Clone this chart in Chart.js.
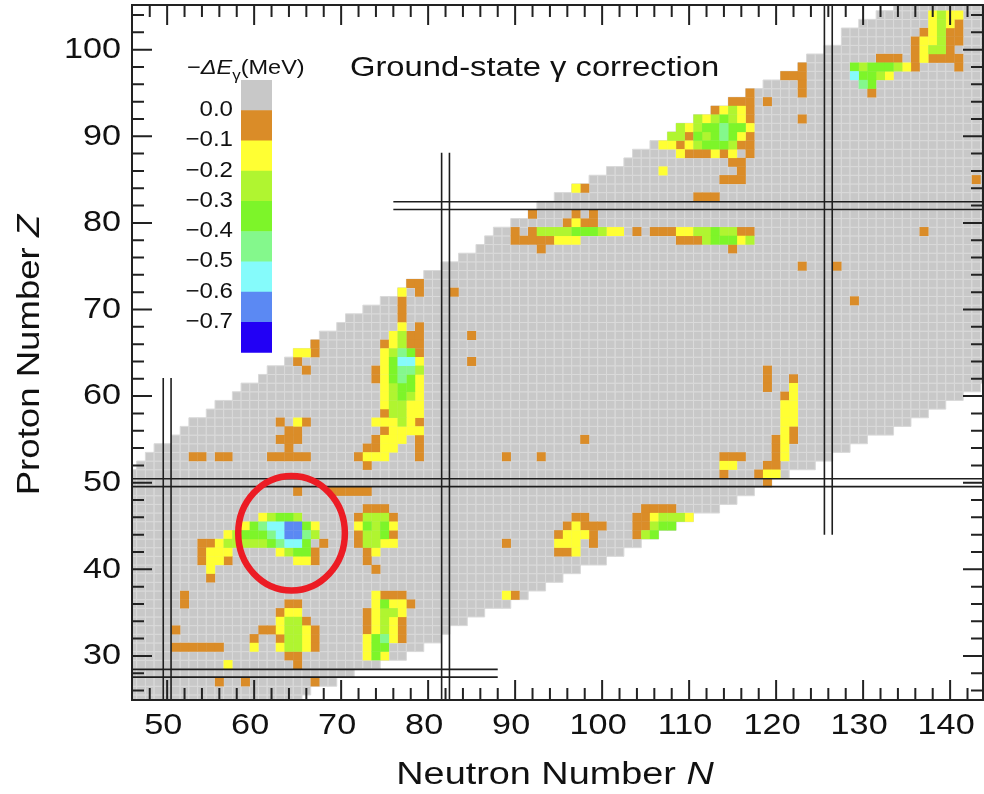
<!DOCTYPE html>
<html lang="en">
<head>
<meta charset="utf-8">
<title>Ground-state gamma correction</title>
<script src="https://cdn.jsdelivr.net/npm/chart.js@4.4.1/dist/chart.umd.min.js"></script>
<style>
  html, body { margin: 0; background: #ffffff; }
  .chart-box { position: relative; width: 984px; height: 794px; }
</style>
</head>
<body>
<div class="chart-box"><canvas id="gammaChart"></canvas></div>
<script>
// Rows of the nuclear chart (proton number) with the first and last neutron number drawn in each row
const zRows = [25, 26, 27, 28, 29, 30, 31, 32, 33, 34, 35, 36, 37, 38, 39, 40, 41, 42, 43, 44, 45,
  46, 47, 48, 49, 50, 51, 52, 53, 54, 55, 56, 57, 58, 59, 60, 61, 62, 63, 64, 65, 66, 67, 68, 69, 70,
  71, 72, 73, 74, 75, 76, 77, 78, 79, 80, 81, 82, 83, 84, 85, 86, 87, 88, 89, 90, 91, 92, 93, 94, 95,
  96, 97, 98, 99, 100, 101, 102, 103, 104, 105];
const nFirst = [46, 46, 46, 46, 46, 46, 46, 46, 46, 46, 46, 46, 46, 46, 46, 46, 46, 46, 46, 46, 46,
  46, 46, 46, 46, 46, 46, 47, 48, 49, 51, 52, 53, 55, 56, 58, 59, 61, 62, 64, 65, 67, 68, 70, 71, 73,
  75, 77, 78, 80, 82, 84, 86, 87, 88, 90, 92, 93, 95, 97, 99, 101, 103, 104, 106, 108, 109, 111, 113, 115, 117,
  119, 121, 123, 124, 126, 128, 128, 130, 132, 134];
const nLast = [65, 66, 69, 71, 74, 77, 79, 81, 82, 84, 86, 89, 91, 93, 95, 97, 100, 102, 104, 106, 108,
  110, 113, 115, 117, 119, 121, 124, 126, 128, 130, 133, 135, 137, 139, 141, 143, 144, 144, 144, 144, 144, 144, 144, 144, 144,
  144, 144, 144, 144, 144, 144, 144, 144, 144, 144, 144, 144, 144, 144, 144, 144, 144, 144, 144, 144, 144, 144, 144, 144, 144,
  144, 144, 144, 144, 144, 144, 144, 144, 144, 144];

// Cells with a correction, grouped by colour band: [Z, [N, ...]]
const orangeRows = [ // -dE about -0.05 MeV
  [103, [141]], [102, [137, 140, 141]], [101, [136, 140, 141]], [100, [136, 140]],
  [99, [132, 133, 134, 136, 138, 139, 140, 141]], [98, [123, 136, 141]], [97, [121, 122, 123]],
  [96, [123]], [95, [117, 123, 131]], [94, [115, 116, 117, 119]], [93, [113, 117]],
  [92, [117, 123]], [90, [110, 117]], [89, [109, 116, 117]], [88, [110, 111, 112, 114, 117]],
  [87, [115, 116]], [86, [116]], [85, [114, 115, 116, 143]], [84, [98]], [83, [111, 112, 113]],
  [81, [92, 97, 99]], [80, [96, 98, 99]], [79, [90, 92, 104, 106, 107, 108, 116, 117, 137]],
  [78, [90, 91, 92, 93, 94, 109, 110, 111]], [77, [93, 115]], [75, [123, 127]],
  [73, [78, 79]], [72, [79, 83]], [71, [77, 129]], [70, [77]], [69, [77]], [68, [79]],
  [67, [78, 79, 85]], [66, [67, 75, 78, 79]], [65, [67, 79]], [64, [65, 85]],
  [63, [66, 74, 119]], [62, [74, 119, 122]], [61, [119]], [60, [121]], [58, [75]],
  [57, [63, 66, 79]], [56, [64, 65, 75, 122]], [55, [63, 64, 65, 74, 79, 98, 120, 122]],
  [54, [64, 73, 74, 79, 120]], [53, [53, 54, 56, 57, 62, 63, 64, 65, 66, 72, 79, 89, 93, 114, 115, 116, 120]],
  [52, [73, 119, 120]], [51, [114, 118]], [50, [119]], [49, [65, 69, 70, 71, 72, 73]],
  [47, [73, 74, 75, 105, 106, 107, 108]], [46, [72, 76, 97, 98, 104, 105]],
  [45, [96, 98, 99, 100, 104, 105]], [44, [72, 76, 95, 99, 104]], [43, [54, 55, 68, 72, 89, 99]],
  [42, [54, 67, 73, 95, 96]], [41, [54, 57, 67, 73]], [40, [74]], [39, [55]],
  [37, [52, 75, 76, 77, 90]], [36, [52, 64, 65, 78]], [35, [63, 73]], [34, [66, 73, 77]],
  [33, [51, 61, 62, 67, 73, 77]], [32, [60, 63, 67, 77]], [31, [51, 52, 53, 54, 55, 56, 67]],
  [30, [64, 65]], [29, [65]], [27, [56, 59, 67]]
];
const yellowRows = [ // about -0.15 MeV
  [104, [138, 140, 141]], [103, [138, 140]], [102, [138]], [101, [137, 138]], [100, [137]], [99, [137]],
  [98, [135]], [97, [133]], [93, [114, 116]], [92, [112, 116]], [91, [110, 117]], [90, [116]],
  [89, [107, 108, 110]], [88, [109, 113, 115]], [86, [107]], [84, [97]], [80, [97]],
  [79, [101, 102, 109, 110]], [78, [95, 96, 97, 116]], [72, [77]], [68, [77]], [67, [76]], [66, [76]],
  [65, [65, 66, 75]], [64, [75, 79]], [63, [75]], [62, [75, 79]], [61, [75, 79, 122]], [60, [75, 79, 122]],
  [59, [75, 78, 79, 121, 122]], [58, [78, 79, 121, 122]], [57, [65, 74, 75, 76, 78, 121, 122]],
  [56, [76, 77, 78, 79, 121]], [55, [75, 76, 77, 121]], [54, [75, 76, 121]], [53, [73, 74, 75, 121]],
  [52, [114, 115]], [51, [119, 120]], [46, [61, 106, 110]], [45, [59, 67, 72, 76, 97]],
  [44, [57, 96, 97, 98]], [43, [56, 75, 76, 95, 96, 97]], [42, [55, 56, 57, 63, 74, 97]],
  [41, [55, 56, 65, 66]], [40, [55]], [37, [74, 89]], [36, [74, 76, 77]], [35, [64, 65, 74, 77]],
  [34, [63, 74, 76]], [33, [63, 66, 74, 76]], [32, [66, 73, 76]], [31, [60, 63, 66, 73]],
  [30, [73, 75]], [29, [57]]
];
const limeRows = [ // about -0.25 MeV
  [104, [139]], [103, [139]], [102, [139]], [101, [139]], [100, [138, 139]],
  [98, [130, 134]], [97, [132]], [93, [115]], [92, [111, 113, 115]], [91, [109, 111]],
  [90, [108, 109, 112]], [89, [111, 115]], [79, [93, 94, 95, 96, 100, 111, 112, 114, 115]],
  [78, [112, 117]], [67, [77]], [66, [77]], [65, [76]], [63, [79]], [61, [76]], [60, [76, 78]],
  [59, [76, 77]], [58, [76, 77]], [57, [77]], [46, [62, 65, 73, 74, 75, 107, 108, 109]],
  [45, [74, 106]], [44, [58, 67, 73, 74, 105]], [43, [57, 58, 59, 60, 61, 73, 74]], [42, [64]],
  [35, [75, 76]], [34, [64, 65, 75]], [33, [64, 65, 75]], [32, [64, 65]], [31, [64, 65]]
];
const greenRows = [ // about -0.35 MeV
  [98, [129, 131, 132, 133]], [97, [130, 131]], [96, [131]], [92, [114]], [91, [112, 113, 115, 116]],
  [90, [111, 113, 115]], [89, [112, 113, 114]], [79, [97, 98, 99, 113]], [78, [113, 114, 115]],
  [65, [78]], [64, [76]], [63, [76]], [62, [76, 78]], [61, [77, 78]], [60, [77]],
  [46, [63, 64]], [45, [60, 66, 73, 75, 107, 108]], [44, [59, 60, 61, 75, 106]], [43, [62, 66]],
  [42, [65, 66]], [36, [75]], [32, [74]], [31, [74, 75]], [30, [74]]
];
const mintRows = [ // about -0.45 MeV
  [96, [130]], [91, [114]], [90, [114]], [65, [77]], [63, [77, 78]], [62, [77]],
  [45, [61]], [44, [62, 66]], [43, [63]], [32, [75]]
];
const cyanRows = [[97, [129]], [64, [77, 78]], [45, [62, 63]], [44, [63]], [43, [64, 65]]]; // about -0.55 MeV
const blueRows = [[45, [64, 65]], [44, [64, 65]]]; // about -0.65 MeV
const bandRows = [orangeRows, yellowRows, limeRows, greenRows, mintRows, cyanRows, blueRows];
const bandValues = [-0.05, -0.15, -0.25, -0.35, -0.45, -0.55, -0.65];

// Colour key, top to bottom (grey = no correction)
const levelLabels = ['0.0', '\u22120.1', '\u22120.2', '\u22120.3', '\u22120.4', '\u22120.5', '\u22120.6', '\u22120.7'];
const levelColors = ['#c8c8c8', '#da8c28', '#ffff33', '#b0f530', '#7df529', '#84f88c', '#85fbfb', '#5b89f3', '#2200f5'];

// Shell closures drawn as double lines, with the extent of each pair
const magicN = [50, 82, 126];
const magicNSpan = [[24.9, 62.1], [24.9, 88.1], [44.0, 105.2]];
const magicZ = [28, 50, 82];
const magicZSpan = [[45.9, 88.0], [45.9, 143.8], [76.0, 143.8]];

const xTickValues = [50, 60, 70, 80, 90, 100, 110, 120, 130, 140];
const yTickValues = [30, 40, 50, 60, 70, 80, 90, 100];

const FONT = '"Liberation Sans", Arial, Helvetica, sans-serif';

function colorFor(v) {
  if (v >= 0) return levelColors[0];
  return levelColors[Math.min(levelColors.length - 1, Math.floor(-v / 0.1) + 1)];
}

// half-diagonal of one cell so that a 'rect' point fills exactly one N x Z square
function cellRadius(ctx) {
  const xs = ctx.chart.scales.x;
  return Math.abs(xs.getPixelForValue(1) - xs.getPixelForValue(0)) / Math.SQRT2;
}

const greyCells = [];
zRows.forEach((z, i) => {
  for (let n = nFirst[i]; n <= nLast[i]; n++) greyCells.push({ x: n, y: z });
});

const bandCells = [];
bandRows.forEach((rows, b) => {
  rows.forEach(([z, ns]) => ns.forEach(n => bandCells.push({ x: n, y: z, v: bandValues[b] })));
});

const shellLines = [];
magicN.forEach((n, i) => {
  [-0.45, 0.45].forEach(d => shellLines.push([
    { x: n + d, y: magicNSpan[i][0] }, { x: n + d, y: magicNSpan[i][1] }]));
});
magicZ.forEach((z, i) => {
  [-0.45, 0.45].forEach(d => shellLines.push([
    { x: magicZSpan[i][0], y: z + d }, { x: magicZSpan[i][1], y: z + d }]));
});

// text with optional italic / subscript parts, optionally stretched sideways
function drawRich(ctx, parts, x, y, opts) {
  ctx.save();
  ctx.translate(x, y);
  if (opts.rotate) ctx.rotate(opts.rotate);
  ctx.scale(opts.stretch || 1, 1);
  ctx.textBaseline = opts.baseline || 'middle';
  ctx.textAlign = 'left';
  ctx.fillStyle = '#111';
  const fontOf = p => (p.it ? 'italic ' : '') + (p.sub ? opts.size * 0.72 : opts.size) + 'px ' + FONT;
  let total = 0;
  parts.forEach(p => { ctx.font = fontOf(p); total += ctx.measureText(p.t).width; });
  let cx = opts.align === 'center' ? -total / 2 : opts.align === 'right' ? -total : 0;
  parts.forEach(p => {
    ctx.font = fontOf(p);
    ctx.fillText(p.t, cx, p.sub ? opts.size * 0.3 : 0);
    cx += ctx.measureText(p.t).width;
  });
  ctx.restore();
}

const decorPlugin = {
  id: 'decor',
  afterDatasetsDraw(chart) {
    const { ctx, chartArea: a, scales: { x, y } } = chart;
    ctx.save();
    ctx.strokeStyle = '#222';
    ctx.lineWidth = 2;
    ctx.strokeRect(a.left, a.top, a.right - a.left, a.bottom - a.top);
    ctx.beginPath();
    for (let n = 46; n <= 142; n += 2) {
      const px = x.getPixelForValue(n);
      if (px < a.left + 2) continue;
      const len = n % 10 === 0 ? 20 : 12;
      ctx.moveTo(px, a.bottom); ctx.lineTo(px, a.bottom - len);
      ctx.moveTo(px, a.top); ctx.lineTo(px, a.top + len);
    }
    for (let z = 26; z <= 104; z += 2) {
      const py = y.getPixelForValue(z);
      const len = z % 10 === 0 ? 20 : 12;
      ctx.moveTo(a.left, py); ctx.lineTo(a.left + len, py);
      ctx.moveTo(a.right, py); ctx.lineTo(a.right - len, py);
    }
    ctx.stroke();
    ctx.restore();
  },
  afterDraw(chart) {
    const { ctx, chartArea: a, scales: { x, y } } = chart;

    // highlighted region
    ctx.save();
    ctx.strokeStyle = '#ec1c24';
    ctx.lineWidth = 6.5;
    ctx.beginPath();
    ctx.ellipse(x.getPixelForValue(64.3), y.getPixelForValue(44.16),
      Math.abs(x.getPixelForValue(6.13) - x.getPixelForValue(0)),
      Math.abs(y.getPixelForValue(6.62) - y.getPixelForValue(0)), 0, 0, Math.PI * 2);
    ctx.stroke();
    ctx.restore();

    // tick labels
    yTickValues.forEach(v => drawRich(ctx, [{ t: String(v) }], a.left - 11, y.getPixelForValue(v),
      { size: 30, stretch: 1.14, align: 'right' }));
    xTickValues.forEach(v => drawRich(ctx, [{ t: String(v) }], x.getPixelForValue(v) - 4, 726,
      { size: 30, stretch: 1.14, align: 'center' }));

    // axis titles
    drawRich(ctx, [{ t: 'Neutron Number ' }, { t: 'N', it: true }], 555, 775,
      { size: 31, stretch: 1.22, align: 'center' });
    drawRich(ctx, [{ t: 'Proton Number ' }, { t: 'Z', it: true }], 30, 355,
      { size: 31, stretch: 1.18, align: 'center', rotate: -Math.PI / 2 });

    // plot title
    drawRich(ctx, [{ t: 'Ground-state \u03b3 correction' }], a.left + 218, a.top + 71,
      { size: 27.5, stretch: 1.19, align: 'left', baseline: 'alphabetic' });

    // colour key
    const lx = a.left + 109, ly = a.top + 75, bw = 31, bh = 30.25;
    levelColors.forEach((c, i) => {
      ctx.fillStyle = c;
      ctx.fillRect(lx, ly + i * bh, bw, bh + 0.5);
    });
    levelLabels.forEach((t, i) => drawRich(ctx, [{ t }], lx - 8, ly + (i + 1) * bh,
      { size: 21.5, stretch: 1.12, align: 'right' }));
    drawRich(ctx, [{ t: '\u2212' }, { t: '\u0394E', it: true }, { t: '\u03b3', sub: true }, { t: '(MeV)' }],
      a.left + 55, a.top + 69, { size: 21, stretch: 1.12, align: 'left', baseline: 'alphabetic' });
  }
};

const datasets = [
  {
    label: 'nuclei', data: greyCells, order: 3, clip: 0,
    pointStyle: 'rect', pointRadius: cellRadius, pointHoverRadius: cellRadius,
    pointBackgroundColor: levelColors[0], pointBorderColor: '#dadada', pointBorderWidth: 1
  },
  {
    label: 'correction', data: bandCells, order: 2, clip: 0,
    pointStyle: 'rect', pointRadius: c => cellRadius(c) + 0.2, pointHoverRadius: cellRadius,
    pointBackgroundColor: c => colorFor(c.raw.v), pointBorderWidth: 0
  }
];
shellLines.forEach(pts => datasets.push({
  label: 'shell', data: pts, order: 1, clip: 0, showLine: true,
  borderColor: '#1e1e1e', borderWidth: 1.6, pointRadius: 0, fill: false
}));

new Chart(document.getElementById('gammaChart'), {
  type: 'scatter',
  data: { datasets },
  options: {
    responsive: true,
    maintainAspectRatio: false,
    animation: false,
    events: [],
    layout: { padding: { top: 5, right: 1, left: 0, bottom: 0 } },
    plugins: { legend: { display: false }, tooltip: { enabled: false } },
    scales: {
      x: {
        type: 'linear', min: 45.96, max: 143.78,
        grid: { display: false, drawTicks: false }, border: { display: false },
        ticks: { display: false },
        afterBuildTicks: s => { s.ticks = xTickValues.map(v => ({ value: v })); },
        afterFit: s => { s.height = 94; }
      },
      y: {
        type: 'linear', min: 24.91, max: 105.16,
        grid: { display: false, drawTicks: false }, border: { display: false },
        ticks: { display: false },
        afterBuildTicks: s => { s.ticks = yTickValues.map(v => ({ value: v })); },
        afterFit: s => { s.width = 132; }
      }
    }
  },
  plugins: [decorPlugin]
});
</script>
</body>
</html>
